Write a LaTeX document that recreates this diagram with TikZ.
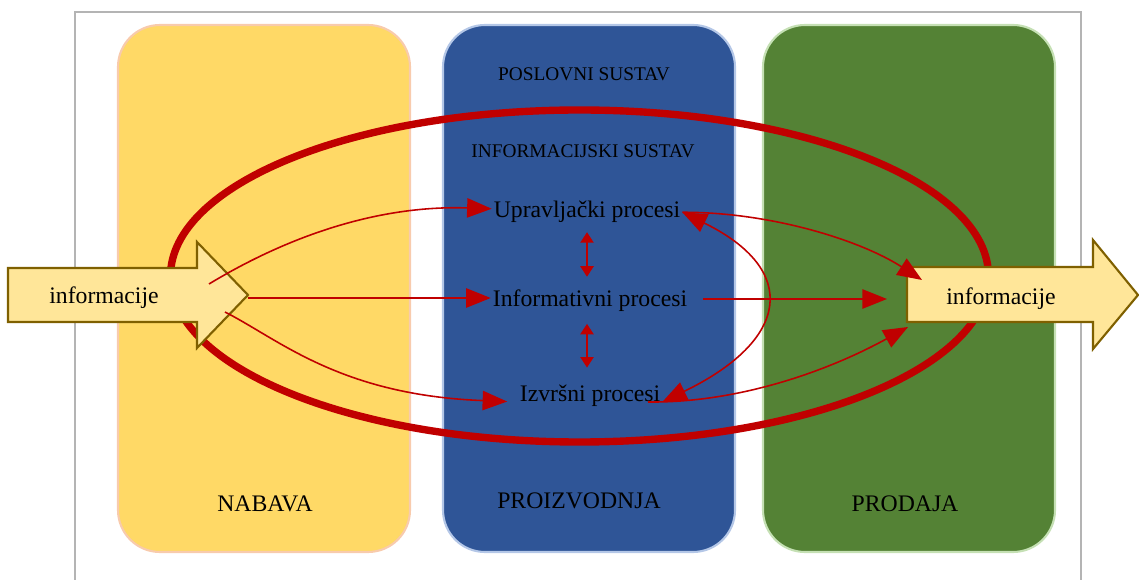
\documentclass[tikz,border=0pt]{standalone}
\usepackage{fontspec}
\setmainfont{Liberation Serif}
\usetikzlibrary{arrows.meta}

\definecolor{okvir}{RGB}{180,180,180}
\definecolor{nabava}{RGB}{255,217,102}
\definecolor{nabavarub}{RGB}{248,203,173}
\definecolor{proizvodnja}{RGB}{47,85,151}
\definecolor{proizvodnjarub}{RGB}{180,199,231}
\definecolor{prodaja}{RGB}{84,130,53}
\definecolor{prodajarub}{RGB}{197,224,180}
\definecolor{info}{RGB}{255,230,153}
\definecolor{inforub}{RGB}{127,96,0}
\definecolor{tok}{RGB}{192,0,0}

\tikzset{
    odjel/.style={rounded corners=0.84cm, line width=1.2pt},
    blok/.style={fill=info, draw=inforub, line width=1.2pt},
    sustav/.style={font=\fontsize{11}{13}\selectfont}
}

\begin{document}
\begin{tikzpicture} [x=0.02cm, y=-0.02cm, every node/.style={inner sep=1pt, anchor=base, font=\fontsize{13.5}{16}\selectfont}]
            \useasboundingbox (0,0) rectangle (1139,580);
            \clip (0,0) rectangle (1139,580);
            \draw [okvir, line width=1.1pt] (75,12) rectangle (1081,620);

            % odjeli
            \draw [odjel, fill=nabava, draw=nabavarub] (118,25) rectangle (410,552);
            \draw [odjel, fill=proizvodnja, draw=proizvodnjarub] (443,25) rectangle (735,552);
            \draw [odjel, fill=prodaja, draw=prodajarub] (763,25) rectangle (1055,552);

            \draw [tok, line width=4.2pt] (579.5,276) ellipse [x radius=409, y radius=166];

            % ulaz i izlaz
            \draw [blok] (8,268) -- (197,268) -- (197,242) -- (248,295) -- (197,348) -- (197,322) -- (8,322) -- cycle;
            \draw [blok] (907,267) -- (1093,267) -- (1093,240) -- (1138,295) -- (1093,349) -- (1093,322) -- (907,322) -- cycle;

            \node (ulaz) at (104,304)   {informacije};
            \node (izlaz) at (1001,305) {informacije};

            \node [sustav] (posl) at (584,81)  {POSLOVNI SUSTAV};
            \node [sustav] (infs) at (583,158) {INFORMACIJSKI SUSTAV};

            \node (upr) at (587,218) {Upravljački procesi};
            \node (inf) at (590,307) {Informativni procesi};
            \node (izv) at (590,402) {Izvršni procesi};

            \node (nab) at (265,512) {NABAVA};
            \node (pro) at (579,508) {PROIZVODNJA};
            \node (prd) at (905,512) {PRODAJA};

            \coordinate (l1) at (209,284);
            \coordinate (l2) at (248,298);
            \coordinate (l3) at (225,312);
            \coordinate (d1) at (922,280);
            \coordinate (d2) at (887,299);
            \coordinate (d3) at (908,327);

            \begin{scope}[tok, line width=0.9pt, ->, >={Triangle[length=14pt, width=11pt]}]
                \draw (l1) .. controls (290,235) and (380,205) .. ([yshift=2pt]upr.west);
                \draw (l2) -- (l2 -| inf.west);
                \draw (l3) .. controls (280,340) and (340,395) .. ([xshift=-6pt, yshift=-3pt]izv.west);
                \draw (upr.east) .. controls (770,212) and (860,240) .. (d1);
                \draw ([xshift=8pt]inf.east |- d2) -- (d2);
                \draw ([xshift=-8pt]izv.base east) .. controls (740,403) and (830,370) .. (d3);
                \draw [<->] (upr.east) .. controls (800,270) and (790,340) .. (izv.base east);
            \end{scope}

            \begin{scope}[tok, line width=1.1pt, <->, >={Triangle[length=6pt, width=7.5pt]}]
                \draw [shorten <=4pt, shorten >=6.5pt] (upr.south) -- (upr.south |- inf.north);
                \draw [shorten <=5.5pt, shorten >=9pt] (upr.south |- inf.south) -- (upr.south |- izv.north);
            \end{scope}
\end{tikzpicture}
\end{document}
